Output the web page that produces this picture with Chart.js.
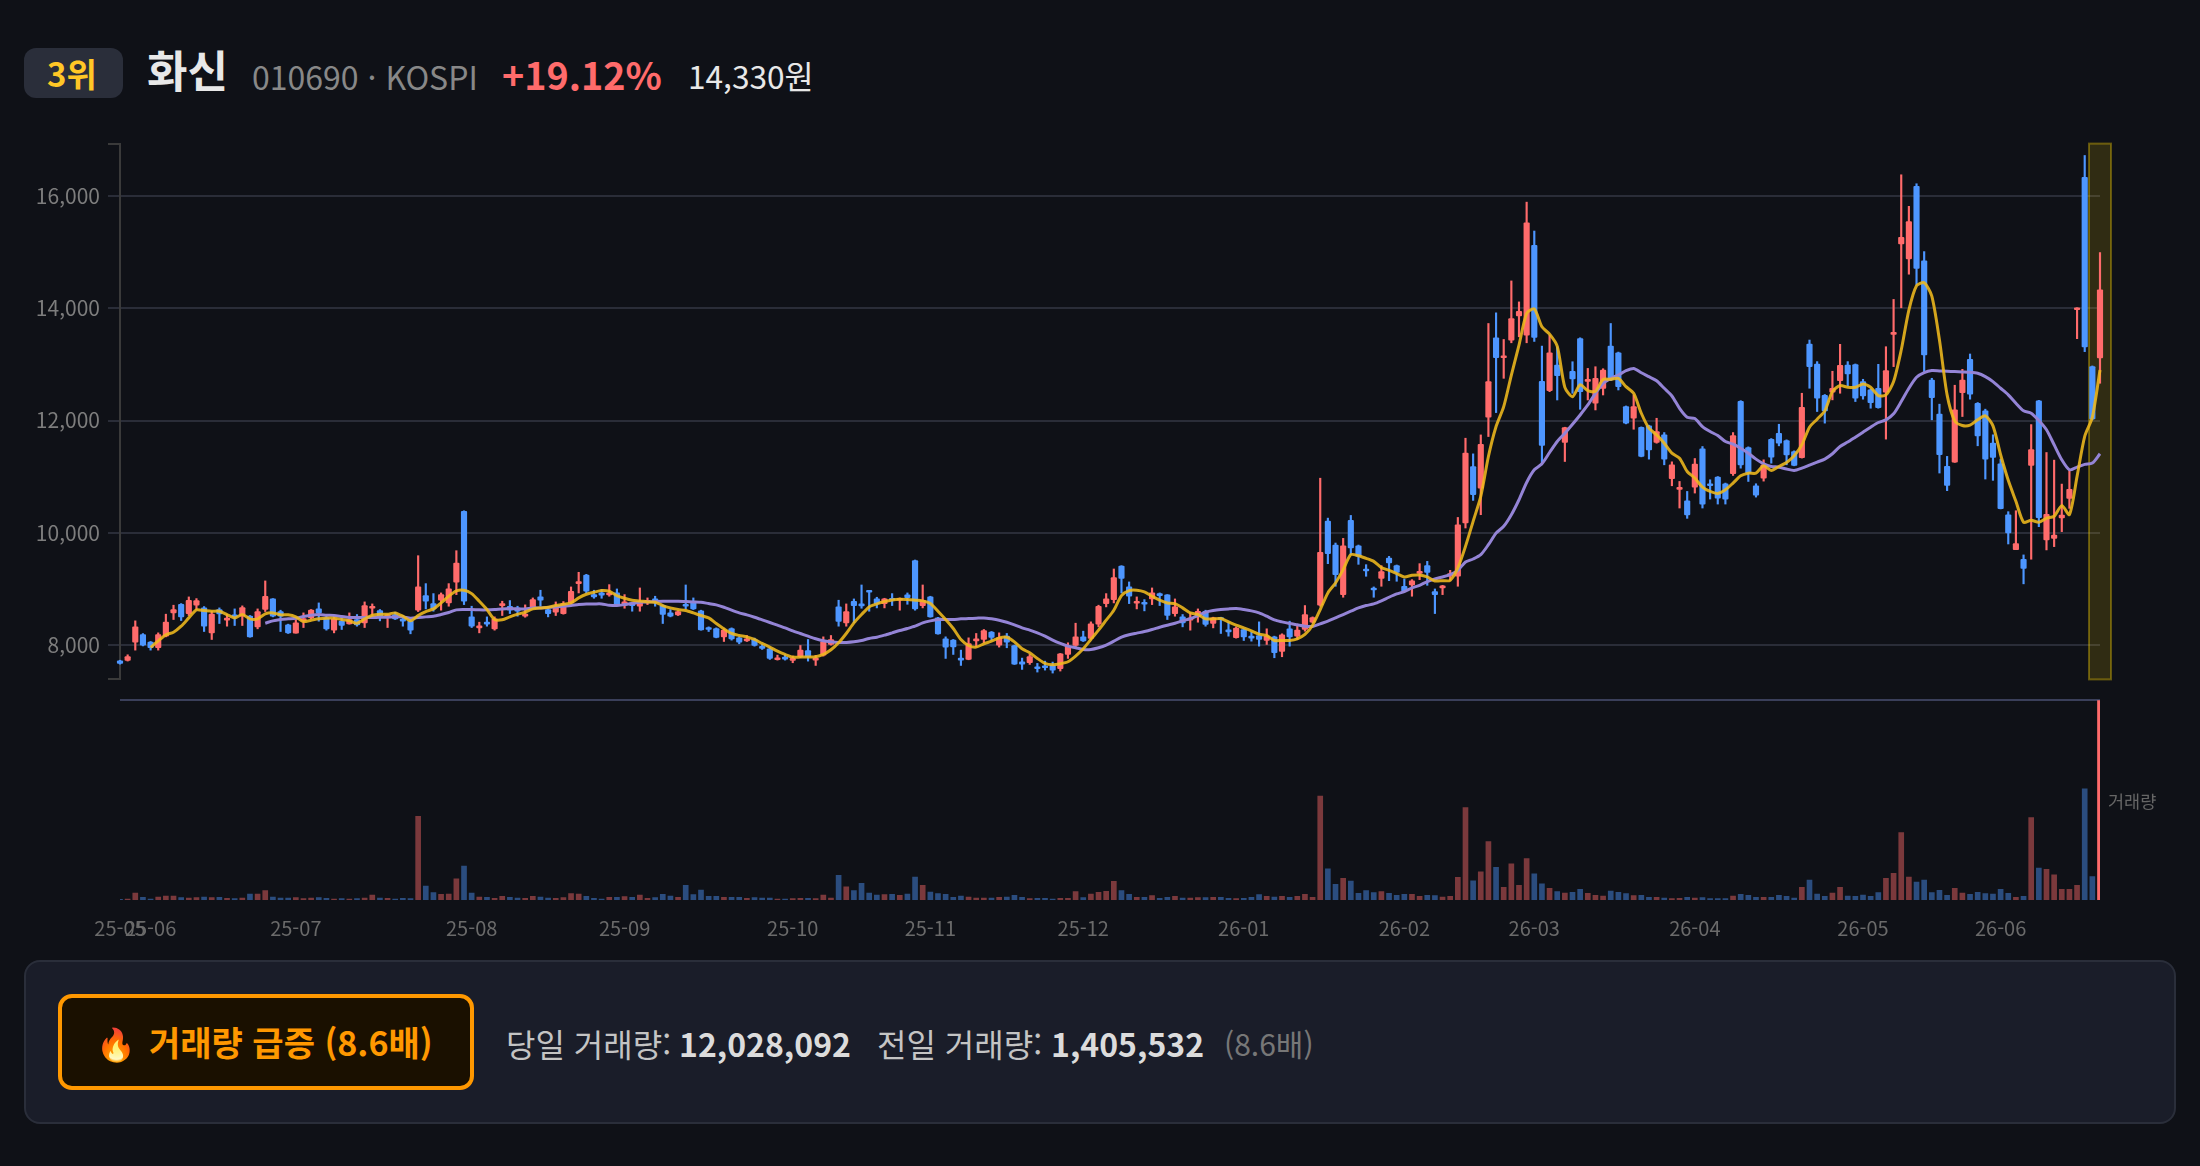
<!DOCTYPE html>
<html lang="ko">
<head>
<meta charset="utf-8">
<title>화신 010690</title>
<script src="https://cdn.jsdelivr.net/npm/chart.js@4"></script>
<style>
html,body{margin:0;padding:0;background:#0f1117;width:2200px;height:1166px;overflow:hidden;font-family:"Noto Sans CJK KR","Noto Sans",sans-serif;}
.t{position:absolute;white-space:nowrap;line-height:1;}
canvas{position:absolute;left:0;}
#badge{position:absolute;left:24px;top:48px;width:99px;height:50px;border-radius:12px;background:#2a2e3a;}
#panel{position:absolute;left:24px;top:960px;width:2148px;height:160px;border:2px solid #2a2e3a;border-radius:16px;background:#1a1d29;box-sizing:content-box;}
#btn{position:absolute;left:58px;top:994px;width:408px;height:88px;border:4px solid #ff9800;border-radius:14px;background:#1a1000;}
</style>
</head>
<body>
<div id="badge"></div>
<div class="t" style="left:47px;top:57px;font-size:33px;font-weight:700;color:#ffc726">3위</div>
<div class="t" style="left:147px;top:47px;font-size:44px;font-weight:700;color:#e8e8e8">화신</div>
<div class="t" style="left:252px;top:60px;font-size:32px;color:#888">010690 · KOSPI</div>
<div class="t" style="left:502px;top:55px;font-size:37.7px;font-weight:700;color:#ff6b6b">+19.12%</div>
<div class="t" style="left:688px;top:60px;font-size:31.6px;color:#e8e8e8">14,330원</div>

<canvas id="price" width="2200" height="577" style="top:123px"></canvas>
<canvas id="vol" width="2200" height="250" style="top:690px"></canvas>
<div class="t" style="left:2108px;top:792px;font-size:17.5px;color:#666">거래량</div>

<div id="panel"></div>
<div id="btn"></div>
<div class="t" style="left:96px;top:1026px;font-size:32px;color:#ff9800">🔥</div>
<div class="t" style="left:149px;top:1025px;font-size:34px;font-weight:700;color:#ff9800">거래량 급증 (8.6배)</div>
<div class="t" style="left:506px;top:1027px;font-size:32px;color:#c4c4c4">당일 거래량:</div>
<div class="t" style="left:679px;top:1027px;font-size:32px;font-weight:700;color:#dcdcdc">12,028,092</div>
<div class="t" style="left:877px;top:1027px;font-size:32px;color:#c4c4c4">전일 거래량:</div>
<div class="t" style="left:1051px;top:1027px;font-size:32px;font-weight:700;color:#dcdcdc">1,405,532</div>
<div class="t" style="left:1224px;top:1028px;font-size:30px;color:#777">(8.6배)</div>

<script>
const monthLabels = ['25-05','25-06','25-07','25-08','25-09','25-10','25-11','25-12','26-01','26-02','26-03','26-04','26-05','26-06'];
const monthStarts = [0,4,23,46,66,88,106,126,147,168,185,206,228,246];
const priceTicks = [8000,10000,12000,14000,16000];

const opens = [
7715,7721,8047,8184,8047,7947,8154,8569,8723,8557,
8706,8658,8213,8629,8439,8522,8510,8510,8320,8629,
8818,8593,8356,8208,8421,8480,8640,8480,8261,8421,
8374,8451,8391,8652,8611,8498,8540,8451,8421,8617,
8878,8735,8795,8747,9115,10378,8498,8302,8391,8285,
8700,8688,8658,8510,8658,8854,8629,8581,8557,8747,
9091,9245,8895,8925,8889,8925,8729,8747,8688,8759,
8818,8700,8569,8534,8717,8777,8605,8308,8291,8142,
8291,8124,8071,8095,7959,7929,7733,7769,7721,7787,
7899,7727,7816,8006,8676,8391,8777,8717,8955,8818,
8735,8806,8795,8889,9500,8700,8854,8480,8107,8083,
7751,7739,8071,8095,8225,7994,8154,7988,7698,7680,
7597,7626,7632,7573,7828,7988,8142,8113,8368,8735,
8806,9405,9032,8741,8747,8818,8889,8889,8557,8498,
8439,8498,8599,8380,8480,8261,8125,8273,8142,8166,
8077,8142,7881,8285,8154,8273,8403,8706,10206,9779,
8895,10218,9767,9340,9002,9186,9548,9411,9044,9067,
9275,9411,8949,9014,9222,9222,10172,11180,10795,12058,
13475,13119,13433,13866,13522,15124,12698,12532,12989,11607,
12876,13463,12698,12307,12574,13327,13208,12247,12040,11880,
11904,11607,11743,10961,10771,10569,10812,11494,10872,10990,
10872,11050,12342,11518,10836,10972,11666,11773,11643,11447,
11336,13364,13008,12451,12504,12712,12990,12996,12694,12546,
12575,12504,13536,15149,14882,16175,14846,12723,12113,11182,
11259,12498,13091,12308,12172,11597,11229,10320,9698,9526,
11198,12350,9870,9899,10261,10611,13975,16335,12961,13115];
const highs = [
7725,7822,8427,8200,8059,8213,8546,8706,8735,8854,
8824,8682,8599,8658,8540,8640,8694,8522,8640,9139,
8824,8617,8368,8451,8569,8629,8747,8540,8510,8480,
8569,8540,8765,8729,8629,8540,8581,8522,8451,9589,
9091,8913,8925,9091,9678,10390,8688,8403,8498,8498,
8777,8789,8688,8712,8836,8973,8640,8765,8771,9032,
9293,9257,8973,8984,9073,8996,8895,8759,9014,8836,
8866,8712,8629,8605,9067,8836,8617,8320,8302,8285,
8302,8142,8166,8119,8006,7947,7816,7822,7798,7988,
8095,7810,8142,8166,8795,8729,8818,9067,8955,8848,
8830,8913,8836,8925,9512,9067,8866,8490,8142,8095,
7905,8124,8202,8273,8237,8213,8202,7994,7763,7828,
7668,7709,7692,7846,8036,8385,8243,8409,8706,8913,
9352,9411,9121,8854,8806,9014,8925,8895,8818,8540,
8569,8640,8617,8492,8492,8403,8320,8285,8225,8409,
8285,8154,8196,8421,8344,8700,8498,10971,10259,9815,
9898,10307,9779,9429,9032,9411,9577,9423,9174,9162,
9447,9488,8996,9061,9328,10271,11684,11405,11743,13730,
13920,13445,14489,14115,15894,15379,13327,13522,13315,11880,
13048,13475,12929,12959,12923,13730,13220,12259,12455,11886,
11916,12040,11785,11263,10913,10735,11322,11536,10943,11000,
10884,11785,12354,11530,10872,11299,11678,11933,11655,11459,
12486,13435,13050,12463,12878,13358,13050,13008,12735,12558,
13002,13316,14159,16382,15819,16222,15012,12753,12291,11360,
12629,12913,13186,12320,12202,11745,11312,10374,10391,9603,
11927,12360,11429,11293,10866,11115,14010,16726,12973,14995];
const lows = [
7655,7710,7905,7980,7905,7905,8142,8451,8433,8522,
8629,8237,8095,8380,8332,8344,8344,8136,8285,8593,
8498,8237,8202,8208,8308,8463,8421,8261,8213,8273,
8368,8332,8308,8522,8427,8308,8451,8332,8196,8593,
8640,8599,8617,8688,8895,8717,8308,8213,8332,8261,
8522,8557,8510,8492,8640,8688,8498,8522,8546,8735,
8925,8925,8830,8830,8866,8700,8652,8599,8599,8717,
8688,8380,8498,8522,8640,8629,8261,8237,8124,8059,
8083,8018,8059,7976,7917,7739,7727,7727,7680,7769,
7709,7632,7798,7994,8332,8332,8391,8652,8599,8658,
8658,8700,8617,8723,8617,8658,8492,8190,7757,7828,
7632,7733,7964,8036,8083,7959,7947,7650,7561,7650,
7514,7549,7496,7532,7757,7959,8059,8095,8320,8676,
8747,8925,8735,8640,8605,8717,8700,8451,8510,8320,
8261,8403,8332,8302,8202,8154,8119,8077,8065,7976,
8006,7769,7787,7976,8095,8243,8391,8688,9447,9044,
8848,9607,9435,9222,8848,9044,9144,9133,8949,8866,
9162,9061,8557,8895,9150,9044,10083,10575,10320,11714,
12141,12752,13386,13493,13386,13410,11210,12514,12366,11269,
12485,12200,12366,12188,12455,12710,12544,11940,11844,11352,
11311,11595,11210,10836,10439,10255,10706,10439,10599,10510,
10510,11020,11150,10913,10634,10919,11239,11548,11210,11192,
11330,12575,12160,11953,12368,12486,12617,12338,12380,12219,
12219,11668,12961,14010,14609,14414,12872,12012,11063,10749,
11253,12071,12380,11549,10956,10933,10423,9798,9698,9087,
9526,10107,9692,9751,10018,10433,13459,13228,12012,12664];
const closes = [
7668,7792,8320,7994,7947,8184,8403,8629,8498,8795,
8789,8332,8546,8551,8463,8498,8664,8142,8593,8866,
8510,8510,8213,8391,8468,8617,8569,8285,8463,8344,
8451,8356,8700,8670,8504,8510,8463,8421,8261,9032,
8777,8640,8895,8996,9459,8777,8332,8326,8368,8463,
8723,8617,8599,8540,8806,8795,8557,8688,8735,8955,
9115,8955,8854,8884,8913,8717,8759,8700,8759,8795,
8747,8540,8510,8593,8688,8640,8267,8273,8130,8261,
8107,8047,8095,7988,7935,7757,7751,7745,7751,7905,
7787,7751,8053,8095,8415,8593,8700,8694,8937,8735,
8818,8795,8818,8842,8640,8795,8498,8196,7959,7964,
7727,8024,8095,8255,8130,8130,8047,7656,7656,7792,
7573,7591,7549,7840,7976,8142,8071,8374,8688,8818,
9198,9186,8866,8765,8723,8925,8877,8522,8676,8391,
8463,8599,8362,8480,8451,8231,8297,8142,8119,8095,
8154,7858,8178,8142,8261,8540,8486,9649,9625,9251,
9767,9726,9577,9316,8978,9305,9459,9293,8955,9139,
9305,9293,8895,9038,9269,10141,11417,10676,11577,12692,
13119,13143,13819,13949,15527,13481,11554,13208,12799,11874,
12740,12514,12722,12752,12900,12722,12603,11951,12247,11358,
11477,11803,11311,11210,10795,10314,11222,10510,10836,10617,
10599,11732,11210,11061,10670,11210,11346,11595,11388,11198,
12237,12961,12397,12172,12575,12984,12830,12397,12439,12320,
12231,12890,13554,15267,15546,14710,13168,12409,11389,10844,
12190,12723,12468,11727,11312,11342,10429,9994,9804,9360,
11483,10267,10326,9958,10314,10771,13998,13310,12030,14330];

const ma5 = [
null,null,null,null,7953,8071,8178,8225,8332,8480,
8623,8611,8599,8599,8540,8480,8540,8463,8463,8551,
8569,8534,8534,8498,8415,8439,8463,8474,8474,8451,
8427,8385,8463,8528,8546,8546,8569,8510,8427,8522,
8593,8640,8747,8866,8961,8973,8913,8777,8629,8451,
8445,8498,8546,8581,8640,8658,8670,8700,8723,8747,
8836,8901,8937,8967,8955,8878,8830,8795,8783,8765,
8759,8700,8658,8629,8611,8569,8522,8480,8380,8285,
8202,8166,8142,8095,8024,7959,7887,7828,7781,7781,
7781,7787,7828,7911,8036,8202,8391,8540,8676,8729,
8771,8800,8812,8806,8795,8783,8735,8599,8451,8291,
8095,7988,7959,8018,8065,8124,8136,8053,7929,7858,
7757,7668,7644,7662,7698,7798,7929,8095,8261,8439,
8617,8878,8967,8973,8943,8866,8795,8747,8735,8658,
8569,8540,8463,8463,8468,8409,8350,8302,8249,8190,
8166,8077,8077,8077,8107,8184,8350,8629,8925,9103,
9340,9607,9589,9542,9488,9376,9328,9269,9210,9239,
9245,9210,9139,9144,9150,9370,9755,10202,10646,11358,
11892,12247,12811,13345,13908,13991,13671,13540,13327,12591,
12425,12639,12532,12520,12734,12734,12752,12603,12485,12129,
11862,11743,11595,11417,11328,11091,10972,10812,10735,10700,
10765,10884,11014,11061,11061,11192,11109,11180,11251,11370,
11567,11881,12024,12172,12516,12623,12593,12593,12652,12593,
12445,12457,12694,13257,13969,14402,14455,14218,13435,12457,
11994,11911,11917,12012,12083,11905,11389,10933,10559,10185,
10221,10185,10257,10292,10482,10322,11004,11715,12059,12901];
const ma20 = [
null,null,null,null,null,null,null,null,null,null,
null,null,null,null,null,null,null,null,null,8385,
8427,8451,8463,8474,8504,8528,8540,8528,8522,8504,
8486,8486,8486,8486,8492,8492,8498,8498,8474,8486,
8498,8510,8540,8575,8623,8629,8629,8623,8623,8629,
8640,8646,8640,8640,8658,8658,8664,8676,8688,8700,
8717,8729,8729,8729,8706,8700,8717,8735,8759,8765,
8771,8777,8777,8777,8771,8765,8759,8735,8712,8670,
8617,8569,8534,8492,8445,8397,8350,8302,8249,8202,
8154,8107,8071,8053,8042,8042,8053,8077,8113,8136,
8172,8213,8255,8291,8332,8391,8427,8451,8451,8451,
8463,8468,8474,8480,8463,8439,8403,8356,8302,8261,
8213,8154,8083,8024,7976,7947,7917,7917,7947,7994,
8065,8136,8178,8208,8237,8273,8314,8350,8385,8427,
8468,8522,8581,8611,8629,8640,8646,8629,8605,8569,
8510,8445,8409,8380,8356,8332,8326,8374,8421,8480,
8540,8599,8658,8700,8729,8783,8848,8907,8949,9014,
9061,9127,9174,9210,9251,9328,9477,9530,9607,9785,
9992,10113,10320,10587,10895,11121,11228,11429,11625,11773,
11933,12099,12277,12485,12663,12752,12811,12888,12929,12852,
12781,12710,12574,12437,12218,12058,12034,11892,11803,11732,
11625,11577,11506,11417,11311,11228,11180,11168,11134,11110,
11152,11205,11259,11312,11407,11537,11615,11703,11792,11881,
11964,12012,12119,12338,12575,12771,12854,12890,12884,12878,
12872,12866,12860,12842,12783,12694,12575,12457,12308,12172,
12130,12000,11834,11567,11300,11122,11170,11217,11241,11407];

const volumes = [
40000,60000,420000,160000,60000,180000,240000,240000,140000,120000,
140000,180000,140000,160000,100000,80000,120000,360000,360000,560000,
180000,120000,120000,140000,80000,120000,140000,100000,60000,80000,
60000,80000,120000,300000,120000,100000,60000,100000,80000,5040000,
840000,440000,340000,360000,1280000,2040000,420000,180000,160000,100000,
220000,160000,120000,100000,220000,180000,120000,100000,140000,380000,
360000,220000,100000,60000,160000,160000,200000,160000,300000,100000,
140000,340000,240000,160000,880000,320000,600000,220000,220000,160000,
160000,160000,100000,140000,120000,120000,60000,60000,80000,100000,
100000,80000,300000,120000,1480000,800000,560000,1000000,420000,300000,
320000,340000,280000,360000,1380000,880000,480000,380000,340000,160000,
240000,180000,120000,120000,120000,160000,180000,280000,160000,80000,
100000,100000,60000,100000,100000,500000,140000,360000,460000,520000,
1120000,560000,340000,160000,160000,260000,100000,160000,220000,120000,
120000,140000,140000,160000,160000,100000,80000,100000,160000,320000,
220000,180000,220000,160000,220000,340000,160000,6260000,1880000,940000,
1300000,1140000,400000,560000,440000,500000,400000,280000,340000,340000,
220000,280000,260000,180000,220000,1360000,5560000,1160000,1700000,3520000,
1960000,760000,2180000,880000,2500000,1580000,980000,700000,500000,420000,
460000,640000,400000,280000,240000,540000,460000,380000,260000,280000,
160000,160000,120000,80000,100000,160000,120000,140000,80000,80000,
80000,240000,340000,280000,160000,160000,160000,280000,220000,120000,
760000,1200000,360000,220000,420000,760000,240000,220000,300000,220000,
440000,1300000,1600000,4060000,1380000,1080000,1200000,440000,580000,280000,
700000,420000,340000,460000,380000,360000,640000,400000,160000,220000,
4960000,1920000,1840000,1520000,640000,640000,880000,6700000,1405532,12028092];

const categories = closes.map((_, i) => {
  const m = monthStarts.indexOf(i);
  return m >= 0 ? monthLabels[m] : '';
});

const RED = '#ff6b6b', BLUE = '#4d96ff';
const RED_DIM = 'rgba(255,107,107,0.45)', BLUE_DIM = 'rgba(77,150,255,0.45)';
const FONT = '"Noto Sans CJK KR","Noto Sans",sans-serif';
const isUp = i => closes[i] >= opens[i];
const last = closes.length - 1;

Chart.defaults.animation = false;
Chart.defaults.responsive = false;
Chart.defaults.devicePixelRatio = 1;
Chart.defaults.font.family = FONT;
Chart.defaults.plugins.legend.display = false;
Chart.defaults.plugins.tooltip.enabled = false;

const highlight = {
  id: 'highlight',
  beforeDatasetsDraw(chart) {
    const { ctx, chartArea, scales } = chart;
    const cx = scales.x.getPixelForValue(last);
    ctx.save();
    ctx.fillStyle = 'rgba(255,215,0,0.14)';
    ctx.strokeStyle = 'rgba(255,215,0,0.35)';
    ctx.lineWidth = 2;
    ctx.fillRect(cx - 11, chartArea.top, 22, chartArea.bottom - chartArea.top);
    ctx.strokeRect(cx - 11, chartArea.top, 22, chartArea.bottom - chartArea.top);
    ctx.restore();
  }
};

const candleColor = c => isUp(c.dataIndex) ? RED : BLUE;

new Chart(document.getElementById('price'), {
  type: 'bar',
  plugins: [highlight],
  data: {
    labels: categories,
    datasets: [
      { type: 'line', data: ma5, borderColor: 'rgba(240,185,30,0.88)', borderWidth: 3, pointRadius: 0, tension: 0.25, order: 0, clip: false },
      { type: 'line', data: ma20, borderColor: '#9484d6', borderWidth: 3, pointRadius: 0, tension: 0.25, order: 1, clip: false },
      { data: opens.map((o, i) => [o, closes[i]]), backgroundColor: candleColor, barThickness: 5.5, minBarLength: 2, borderRadius: 1, borderSkipped: false, grouped: false, order: 2, clip: false },
      { data: lows.map((l, i) => [l, highs[i]]), backgroundColor: candleColor, barThickness: 1.5, grouped: false, order: 3, clip: false }
    ]
  },
  options: {
    layout: { padding: { top: 6, bottom: 20, right: 100, left: 0 } },
    scales: {
      x: { display: false, offset: false, grid: { display: false } },
      y: {
        min: 7383, max: 16938,
        afterFit(s) { s.width = 120; },
        afterBuildTicks(s) {
          s.ticks = [s.min, ...priceTicks, s.max].map(value => ({ value }));
        },
        border: { display: true, color: '#3a3a3a', width: 2 },
        grid: {
          lineWidth: 2,
          tickLength: 12,
          color: c => priceTicks.includes(c.tick.value) ? '#2a2d38' : 'rgba(0,0,0,0)',
          tickColor: c => priceTicks.includes(c.tick.value) ? '#2a2d38' : '#3a3a3a'
        },
        ticks: {
          autoSkip: false,
          padding: 8,
          color: '#7d7d7d',
          font: { size: 21 },
          callback: v => priceTicks.includes(v) ? v.toLocaleString('en-US') : ''
        }
      }
    }
  }
});

const volMax = Math.max(...volumes);
new Chart(document.getElementById('vol'), {
  type: 'bar',
  data: {
    labels: categories,
    datasets: [{
      data: volumes,
      barThickness: 5,
      backgroundColor: c => c.dataIndex === last ? RED : (isUp(c.dataIndex) ? RED_DIM : BLUE_DIM)
    }]
  },
  options: {
    layout: { padding: { top: 10, bottom: 0, right: 100, left: 0 } },
    scales: {
      x: {
        offset: false,
        afterFit(s) { s.height = 40; },
        grid: { display: false },
        border: { display: false },
        ticks: { autoSkip: false, maxRotation: 0, minRotation: 0, padding: 8, color: '#6a6a6a', font: { size: 20 } }
      },
      y: {
        min: 0, max: volMax,
        afterFit(s) { s.width = 120; },
        afterBuildTicks(s) { s.ticks = [{ value: s.max }]; },
        border: { display: false },
        grid: { color: '#3a3f5a', lineWidth: 2, drawTicks: false },
        ticks: { callback: () => '' }
      }
    }
  }
});
</script>
</body>
</html>
